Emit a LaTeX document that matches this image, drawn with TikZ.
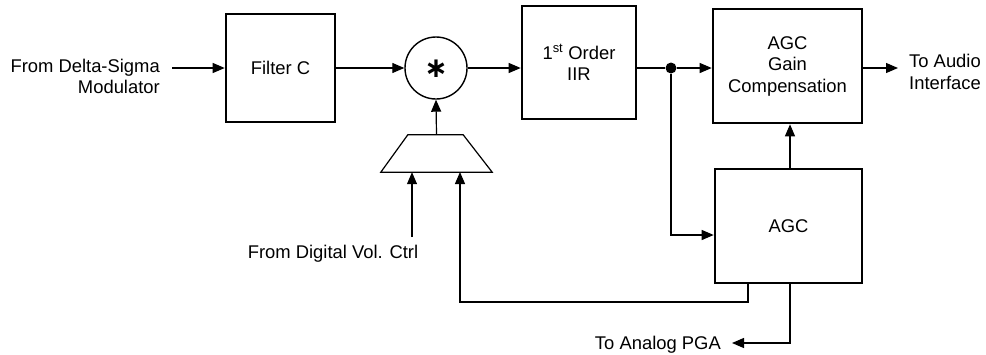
\documentclass[tikz,border=0pt]{standalone}
\usepackage{fontspec}
\setmainfont{Liberation Sans}
\newfontfamily\symfnt{DejaVu Sans}
\usetikzlibrary{arrows.meta,calc}
\begin{document}
\begin{tikzpicture}[x=1pt,y=-1pt,
  font=\fontsize{18.4}{21.5}\selectfont,
  block/.style={draw,line width=2.6pt,inner sep=0pt,align=center},
  conn/.style={line width=1.2pt,-{Triangle[length=12pt,width=10pt]}},
  wire/.style={line width=1.2pt},
  lbl/.style={inner sep=0pt,align=center}]
\useasboundingbox (0,0) rectangle (986,354);

% blocks
\node[block,minimum width=109pt,minimum height=108pt] (filter) at (280.5,68) {Filter C};
\node[draw,circle,line width=1.4pt,minimum size=62pt,inner sep=0pt] (mult) at (436,68) {};
\node[inner sep=0pt,font=\symfnt\bfseries\fontsize{28}{28}\selectfont] (star) at (436,68.5) {∗};
\node[block,minimum width=114pt,minimum height=113pt] (iir) at (579,62.5) {1\textsuperscript{st} Order\\IIR};
\node[block,minimum width=149pt,minimum height=114pt] (agcg) at (787.5,66) {AGC\\Gain\\Compensation};
\node[block,minimum width=147pt,minimum height=114pt] (agc) at (788.5,226) {AGC};
\node[inner sep=0pt,minimum width=111pt,minimum height=37pt] (mux) at (436.5,153.5) {};
\draw[line width=1.2pt,line join=miter] (mux.south west) -- ($(mux.north west)+(27,0)$)
  -- ($(mux.north east)+(-29,0)$) -- (mux.south east) -- cycle;
\node[fill,circle,inner sep=0pt,minimum size=11pt] (dot) at (671,68) {};

% labels
\node[lbl,anchor=east,align=right] (inlbl) at (160,76.5) {From Delta-Sigma\\Modulator};
\node[lbl,anchor=west,align=left] (outlbl) at (909,72) {To Audio\\Interface};
\node[lbl] (vol) at (333,254) {From Digital Vol. Ctrl};
\node[lbl,anchor=east] (pga) at (721,345) {To Analog PGA};

\coordinate (in) at (172,68);
\coordinate (volin) at (412,237);
\coordinate (out) at (898,68);
\coordinate (pgaout) at (732,343);

% connectors
\draw[conn] (in) -- (filter.west |- in);
\draw[conn] (filter.east |- mult) -- (mult.west);
\draw[conn] (mult.east) -- (mult.east -| iir.west);
\draw[wire] (iir.east |- dot) -- (dot);
\draw[conn] (dot) -- (dot -| agcg.west);
\draw[conn] (agcg.east |- dot) -- (out);
\draw[conn] (mux.north) -- (mult.south);
\draw[conn] (volin) -- (volin |- mux.south);
\draw[conn] (dot) |- (agc.west |- 0,235);
\draw[conn] (agc.north -| 790,0) -- (agcg.south -| 790,0);
\draw[conn] (agc.south -| 748,0) |- (460,302) -- (460,172);
\draw[conn] (agc.south -| 790,0) |- (pgaout);
\end{tikzpicture}
\end{document}
